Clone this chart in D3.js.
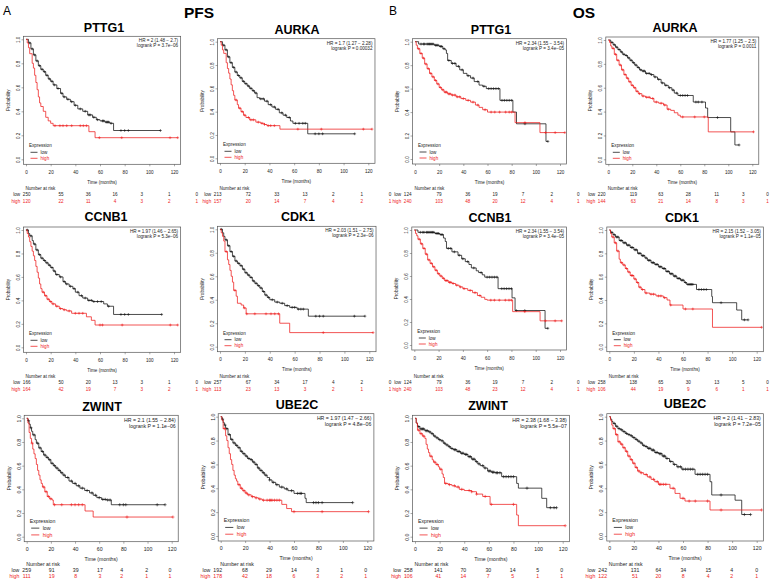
<!DOCTYPE html>
<html><head><meta charset="utf-8">
<script src="https://cdn.jsdelivr.net/npm/d3@7"></script>
<style>
body{margin:0;background:#fff}
svg{display:block}
text{font-family:"Liberation Sans",Arial,Helvetica,sans-serif}
</style>
</head><body>
<svg id="chart" width="770" height="582"></svg>
<script>
// ---------------- DATA ----------------
const timeTicks = [0, 20, 40, 60, 80, 100, 120];
const probTicks = [0, 0.2, 0.4, 0.6, 0.8, 1.0];
const groupLabels = ["low", "high"];

// PFS PTTG1
const pttg1PfsLow = [[2,0.97],[4,0.92],[6,0.87],[8,0.82],[10,0.78],[12,0.75],[14,0.73],[16,0.70],[18,0.67],[20,0.65],[22,0.62],[25,0.59],[28,0.55],[30,0.52],[33,0.50],[36,0.48],[39,0.45],[42,0.42],[46,0.40],[50,0.37],[54,0.35],[57,0.33],[60,0.32],[64,0.31],[68,0.30],[71,0.24],[109,0.24]];
const pttg1PfsLowCens = [3,5,7,9,11,13,15,17,19,21,23,26,29,31,34,37,40,44,48,51,52,55,58,62,63,65,66,67,69,77,80,83,109];
const pttg1PfsHigh = [[1,0.97],[2,0.93],[3,0.88],[5,0.80],[6,0.76],[7,0.70],[8,0.64],[9,0.58],[10,0.52],[11,0.47],[12,0.44],[14,0.40],[16,0.35],[18,0.32],[20,0.30],[22,0.28],[51,0.23],[56,0.18],[123,0.18]];
const pttg1PfsHighCens = [23.5,27.5,30,33,37,44,46.5,49,59.5,77.6,116.8,123];
const pttg1PfsRiskLow = [250,55,36,16,3,1,0];
const pttg1PfsRiskHigh = [120,22,11,4,3,2,1];

// PFS AURKA
const aurkaPfsLow = [[2,0.97],[4,0.93],[6,0.87],[8,0.82],[10,0.78],[12,0.74],[14,0.71],[16,0.69],[18,0.66],[20,0.64],[22,0.62],[24,0.60],[26,0.58],[28,0.56],[30,0.52],[32,0.51],[36,0.49],[39,0.46],[42,0.44],[45,0.42],[48,0.39],[51,0.37],[54,0.35],[57,0.32],[59,0.30],[71,0.21],[109,0.21]];
const aurkaPfsLowCens = [3,5,7,9,11,13,15,17,19,21,23,25,27,29,33,35,38,41,44,47,50,53,56,61,64,67,69,77,80,83,109];
const aurkaPfsHigh = [[1,0.97],[2,0.93],[3,0.90],[5,0.82],[6,0.77],[7,0.73],[8,0.68],[9,0.63],[10,0.58],[11,0.54],[12,0.50],[14,0.46],[15,0.43],[17,0.40],[19,0.37],[21,0.35],[24,0.33],[29,0.31],[33,0.30],[36,0.29],[38,0.28],[48.5,0.25],[123,0.25]];
const aurkaPfsHighCens = [13,16,18,20,23,25,27,31,34,36,39,41,44,63,82,116,123];
const aurkaPfsRiskLow = [213,72,33,13,2,1,0];
const aurkaPfsRiskHigh = [157,20,14,7,4,2,1];

// OS PTTG1
const pttg1OsLow = [[3,0.98],[16,0.97],[20,0.96],[23,0.94],[25,0.93],[26,0.90],[27,0.84],[30,0.815],[34,0.79],[37,0.76],[40,0.73],[43,0.71],[46,0.69],[49,0.66],[53,0.63],[56,0.62],[59,0.60],[70.3,0.50],[81,0.40],[84,0.30],[108.4,0.15],[110,0.15]];
const pttg1OsLowCens = [5,7,8,10,11,12,13,14,15,17,18,19,21,22,24,28,31,33,36,39,44,48,52,57,61,63,65,67,69,72,74,76,78,80,91,110];
const pttg1OsHigh = [[1,0.97],[2,0.94],[4,0.90],[6,0.86],[8,0.81],[10,0.77],[12,0.73],[14,0.70],[16,0.67],[18,0.64],[20,0.61],[22,0.59],[24,0.57],[27,0.555],[30,0.545],[34,0.53],[38,0.515],[42,0.50],[46,0.485],[50,0.46],[53,0.44],[56,0.42],[60,0.40],[82.8,0.31],[103.4,0.225],[124,0.225]];
const pttg1OsHighCens = [3,5,7,9,11,13,15,17,19,21,23,25,26,28,29,31,33,35,37,40,44,48,52,58,63,66,70,75,78,80,91,108,116,124];
const pttg1OsRiskLow = [124,79,36,19,7,2,0];
const pttg1OsRiskHigh = [240,103,48,20,12,4,1];

// OS AURKA
const aurkaOsLow = [[2,0.98],[4,0.96],[6,0.94],[8,0.92],[10,0.90],[12,0.88],[14,0.87],[16,0.85],[18,0.83],[20,0.81],[22,0.79],[24,0.77],[26,0.75],[28,0.74],[31,0.72],[35,0.71],[38,0.69],[41,0.67],[44,0.64],[47,0.62],[50,0.60],[53,0.58],[55,0.555],[58,0.535],[70.8,0.48],[81,0.43],[82.8,0.35],[102,0.23],[105.5,0.12],[109,0.12]];
const aurkaOsLowCens = [3,5,7,9,11,13,15,17,19,21,23,25,27,29,30,32,34,36,39,42,45,48,51,54,57,60,62,64,66,73,75,78,91,109];
const aurkaOsHigh = [[1,0.98],[2,0.95],[3,0.93],[5,0.88],[7,0.83],[9,0.79],[11,0.75],[13,0.71],[15,0.68],[17,0.65],[19,0.62],[21,0.60],[23,0.57],[25,0.55],[28,0.53],[31,0.52],[35,0.51],[38,0.48],[42,0.47],[46,0.455],[49,0.42],[52,0.41],[55,0.39],[58,0.37],[60,0.355],[83.3,0.23],[121,0.23]];
const aurkaOsHighCens = [4,6,8,10,12,14,16,18,20,22,24,26,29,32,34,37,40,44,47,50,62,72,80,121];
const aurkaOsRiskLow = [220,119,63,28,11,3,0];
const aurkaOsRiskHigh = [144,63,21,14,8,3,1];

// PFS CCNB1
const ccnb1PfsLow = [[2,0.97],[3,0.95],[5,0.91],[6,0.88],[8,0.83],[10,0.79],[12,0.76],[14,0.74],[16,0.72],[18,0.70],[20,0.68],[22,0.65],[24,0.62],[27,0.60],[30,0.56],[32,0.54],[35,0.52],[38,0.50],[40,0.47],[43,0.44],[46,0.42],[50,0.40],[54,0.39],[63,0.37],[66,0.35],[71,0.28],[110,0.28]];
const ccnb1PfsLowCens = [1,4,7,9,11,13,15,17,19,21,23,25,28,31,33,36,39,42,45,48,51,53,55,58,61,67,77,80,83,110];
const ccnb1PfsHigh = [[1,0.97],[2,0.94],[3,0.90],[4,0.86],[5,0.82],[6,0.78],[7,0.74],[8,0.69],[9,0.64],[10,0.59],[11,0.54],[12,0.50],[13,0.47],[15,0.44],[17,0.41],[19,0.39],[21,0.37],[24,0.35],[27,0.33],[30,0.32],[33,0.31],[37,0.29],[49,0.26],[53,0.23],[56,0.19],[123,0.19]];
const ccnb1PfsHighCens = [14,16,18,20,22,25,28,31,35,40,43,46,60,62,78,117,123];
const ccnb1PfsRiskLow = [166,50,20,13,3,1,0];
const ccnb1PfsRiskHigh = [164,42,19,7,3,2,1];

// PFS CDK1
const cdk1PfsLow = [[2,0.97],[3,0.94],[4,0.91],[6,0.86],[8,0.81],[10,0.77],[12,0.73],[14,0.71],[16,0.69],[18,0.66],[20,0.63],[22,0.61],[24,0.59],[26,0.56],[28,0.54],[30,0.52],[32,0.50],[34,0.47],[36,0.44],[38,0.42],[40,0.40],[44,0.38],[48,0.37],[52,0.35],[56,0.335],[62,0.32],[71,0.26],[116.5,0.26]];
const cdk1PfsLowCens = [1,5,7,9,11,13,15,17,19,21,23,25,27,29,31,33,35,37,39,42,46,50,54,58,60,63,65,67,77,80,83,108,116.5];
const cdk1PfsHigh = [[1,0.97],[2,0.94],[3,0.90],[4,0.81],[6,0.74],[7,0.70],[8,0.65],[9,0.60],[10,0.55],[11,0.48],[13,0.43],[14,0.37],[17,0.355],[19,0.33],[21,0.28],[48,0.20],[56,0.12],[123,0.12]];
const cdk1PfsHighCens = [5,12,19.5,21.5,28,37,41,44,47,83,123];
const cdk1PfsRiskLow = [257,67,34,17,4,2,0];
const cdk1PfsRiskHigh = [113,23,13,3,2,1,1];

// OS CCNB1
const ccnb1OsLow = [[3,0.98],[17,0.97],[21,0.96],[24,0.93],[25.5,0.90],[26.5,0.84],[31,0.81],[36,0.78],[39,0.75],[42,0.725],[45,0.70],[47,0.67],[51,0.645],[53,0.63],[56,0.61],[58,0.59],[69,0.49],[80.5,0.41],[83,0.30],[107.7,0.145],[110,0.145]];
const ccnb1OsLowCens = [5,7,8,10,11,12,13,14,15,16,18,19,20,22,23,28,30,33,37,40,44,49,55,60,62,64,66,68,72,74,76,78,80,84,91,110];
const ccnb1OsHigh = [[1,0.97],[2,0.95],[3,0.92],[5,0.88],[7,0.84],[9,0.79],[11,0.74],[13,0.71],[15,0.68],[17,0.65],[19,0.62],[21,0.60],[23,0.58],[25,0.56],[28,0.545],[31,0.535],[34,0.52],[37,0.505],[40,0.49],[44,0.475],[48,0.455],[52,0.43],[55,0.415],[58,0.397],[60,0.39],[81,0.29],[103.6,0.21],[121.4,0.21]];
const ccnb1OsHighCens = [4,6,8,10,12,14,16,18,20,22,24,26,27,29,30,32,35,38,41,46,50,54,63,66,70,75,78,80,91,108,116,121.4];
const ccnb1OsRiskLow = [124,79,36,19,7,2,0];
const ccnb1OsRiskHigh = [240,103,48,23,12,4,1];

// OS CDK1
const cdk1OsLow = [[1,0.98],[3,0.96],[5,0.94],[8,0.91],[11,0.89],[14,0.87],[17,0.85],[20,0.83],[23,0.80],[26,0.78],[29,0.76],[31,0.74],[34,0.72],[37,0.705],[40,0.685],[43,0.67],[46,0.645],[49,0.625],[52,0.605],[55,0.585],[58,0.57],[61,0.55],[63,0.534],[71,0.49],[83.4,0.43],[84,0.377],[103.7,0.314],[107.8,0.23],[113,0.23]];
const cdk1OsLowCens = [2,4,6,7,9,10,12,13,15,16,18,19,21,22,24,25,27,28,30,32,33,35,36,38,39,41,42,44,45,47,48,50,51,53,54,56,57,59,60,62,64,65,66,67,68,73,75,77,79,91,110,113];
const cdk1OsHigh = [[1,0.97],[2,0.94],[4,0.89],[6,0.82],[8,0.75],[9,0.72],[11,0.70],[13,0.67],[15,0.64],[17,0.61],[20,0.58],[22,0.55],[24,0.51],[26,0.49],[29,0.46],[33,0.45],[38,0.435],[44,0.42],[47,0.40],[49.4,0.357],[60,0.323],[84,0.166],[124,0.166]];
const cdk1OsHighCens = [3,5,7,10,12,14,16,18,19,21,23,25,27,30,34,36,40,42,45,50,62,68,124];
const cdk1OsRiskLow = [258,138,65,30,13,5,0];
const cdk1OsRiskHigh = [106,44,19,9,6,1,1];

// PFS ZWINT
const zwintPfsLow = [[1,0.98],[2,0.95],[3,0.92],[4,0.89],[5,0.86],[7,0.82],[8,0.79],[10,0.75],[12,0.72],[14,0.69],[16,0.67],[18,0.65],[20,0.62],[22,0.60],[24,0.58],[26,0.56],[28,0.54],[30,0.52],[32,0.50],[35,0.47],[38,0.45],[41,0.43],[44,0.41],[48,0.39],[52,0.37],[55,0.35],[58,0.33],[62,0.315],[66,0.31],[70,0.27],[114.5,0.27]];
const zwintPfsLowCens = [1.5,3.5,6,9,11,13,15,17,19,21,23,25,27,29,31,34,37,40,43,46,50,54,57,60,63,65,67,69,77,80,82,108,114.5];
const zwintPfsHigh = [[1,0.96],[2,0.88],[3,0.83],[4,0.79],[5,0.74],[6,0.70],[7,0.66],[8,0.61],[9,0.56],[10,0.52],[11,0.48],[12,0.45],[13,0.42],[15,0.38],[17,0.34],[19,0.32],[21,0.31],[22,0.27],[48.3,0.217],[55,0.166],[121,0.166]];
const zwintPfsHighCens = [4.5,14,16,18,20,23,29,37,40,43,46,83,121];
const zwintPfsRiskLow = [259,91,39,17,4,2,0];
const zwintPfsRiskHigh = [111,19,8,3,2,1,1];

// PFS UBE2C
const ube2cPfsLow = [[1,0.98],[2,0.95],[3,0.93],[4,0.90],[6,0.85],[8,0.81],[10,0.78],[12,0.76],[14,0.74],[16,0.71],[18,0.69],[20,0.67],[22,0.65],[24,0.64],[26,0.62],[28,0.60],[30,0.57],[32,0.55],[34,0.53],[36,0.51],[38,0.49],[40,0.47],[42,0.45],[45,0.43],[48,0.41],[52,0.395],[55,0.38],[60,0.357],[69,0.316],[70,0.28],[108,0.28]];
const ube2cPfsLowCens = [1.5,3.5,5,7,9,11,13,15,17,19,21,23,25,27,29,31,33,35,37,40,43,46,50,54,58,63,65,66,76,78,80,83,108];
const ube2cPfsHigh = [[1,0.97],[2,0.90],[4,0.84],[5,0.80],[6,0.74],[7,0.69],[8,0.64],[9,0.60],[10,0.55],[11,0.51],[12,0.48],[13,0.46],[14,0.43],[16,0.40],[18,0.38],[20,0.36],[22,0.345],[25,0.33],[28,0.32],[31,0.31],[34,0.30],[50,0.265],[54,0.23],[58,0.204],[121,0.204]];
const ube2cPfsHighCens = [3,15,17,19,21,23,26,29,32,35,38,40,41,42,44,46,48,60,83,121];
const ube2cPfsRiskLow = [192,68,29,14,3,1,0];
const ube2cPfsRiskHigh = [178,42,18,6,3,2,1];

// OS ZWINT
const zwintOsLow = [[1,0.96],[2,0.93],[4,0.91],[8,0.895],[11,0.885],[13,0.87],[15,0.85],[17,0.835],[19,0.82],[21,0.81],[23,0.79],[25,0.775],[27,0.76],[29,0.745],[31,0.735],[34,0.72],[37,0.705],[40,0.695],[43,0.676],[46,0.655],[49,0.634],[51,0.615],[53,0.60],[56,0.58],[59,0.555],[62,0.545],[65,0.54],[70.4,0.507],[82.6,0.45],[84,0.41],[103,0.324],[107,0.245],[115,0.245]];
const zwintOsLowCens = [3,5,6,7,9,10,12,14,16,18,20,22,24,26,28,30,32,33,35,36,38,39,41,42,44,45,47,48,50,52,55,57,60,61,63,64,66,67,69,72,74,76,78,80,91,110,113,115];
const zwintOsHigh = [[1,0.96],[2,0.90],[4,0.87],[6,0.85],[8,0.83],[9,0.78],[10,0.74],[11,0.71],[12,0.68],[14,0.65],[15,0.63],[17,0.61],[19,0.59],[20,0.57],[22,0.53],[23,0.50],[24,0.45],[27,0.44],[30,0.43],[33,0.42],[36,0.40],[40,0.39],[46,0.38],[50,0.36],[55,0.34],[61,0.273],[82.6,0.183],[84,0.093],[122,0.093]];
const zwintOsHighCens = [3,5,7,13,16,18,21,25,28,32,35,38,44,46,50,57,62,80,122];
const zwintOsRiskLow = [258,141,70,30,14,5,0];
const zwintOsRiskHigh = [106,41,14,7,5,1,1];

// OS UBE2C
const ube2cOsLow = [[1,0.98],[2,0.96],[3,0.944],[5,0.92],[7,0.90],[9,0.89],[11,0.875],[13,0.86],[15,0.85],[17,0.84],[19,0.825],[21,0.81],[23,0.795],[25,0.78],[27,0.76],[29,0.75],[31,0.735],[34,0.72],[37,0.70],[40,0.69],[43,0.67],[46,0.65],[49,0.625],[52,0.60],[55,0.58],[59,0.56],[69.8,0.517],[82,0.455],[83.4,0.344],[102.4,0.30],[107.8,0.18],[115,0.18]];
const ube2cOsLowCens = [4,6,8,10,12,14,16,18,20,22,24,26,28,30,32,33,35,36,38,39,41,42,44,45,47,50,53,56,58,60,62,64,66,68,72,74,76,78,80,91,110,115];
const ube2cOsHigh = [[1,0.97],[2,0.93],[3,0.90],[5,0.85],[7,0.79],[9,0.77],[11,0.74],[13,0.71],[15,0.67],[17,0.64],[19,0.61],[21,0.575],[23,0.545],[25,0.53],[28,0.515],[31,0.495],[34,0.475],[37,0.455],[40,0.433],[49.4,0.40],[53.5,0.357],[57.6,0.316],[61.6,0.293],[82,0.218],[124,0.218]];
const ube2cOsHighCens = [4,6,8,10,12,14,16,18,20,22,24,26,30,33,36,39,41,42,44,46,52,60,65,70,80,91,124];
const ube2cOsRiskLow = [242,131,64,34,15,4,0];
const ube2cOsRiskHigh = [122,51,20,8,4,2,1];

const panelTitles = ["PTTG1","AURKA","PTTG1","AURKA","CCNB1","CDK1","CCNB1","CDK1","ZWINT","UBE2C","ZWINT","UBE2C"];
const hrTexts = ["HR = 2 (1.48 \u2212 2.7)","HR = 1.7 (1.27 \u2212 2.28)","HR = 2.34 (1.55 \u2212 3.54)","HR = 1.77 (1.25 \u2212 2.5)",
  "HR = 1.97 (1.46 \u2212 2.65)","HR = 2.03 (1.51 \u2212 2.75)","HR = 2.34 (1.55 \u2212 3.54)","HR = 2.15 (1.52 \u2212 3.05)",
  "HR = 2.1 (1.55 \u2212 2.84)","HR = 1.97 (1.47 \u2212 2.66)","HR = 2.38 (1.68 \u2212 3.38)","HR = 2 (1.41 \u2212 2.83)"];
const pTexts = ["logrank P = 3.7e\u221206","logrank P = 0.00032","logrank P = 3.4e\u221205","logrank P = 0.0011",
  "logrank P = 5.3e\u221206","logrank P = 2.3e\u221206","logrank P = 3.4e\u221205","logrank P = 1.1e\u221205",
  "logrank P = 1.1e\u221206","logrank P = 4.8e\u221206","logrank P = 5.5e\u221207","logrank P = 7.2e\u221205"];

const curvesLow = [pttg1PfsLow,aurkaPfsLow,pttg1OsLow,aurkaOsLow,ccnb1PfsLow,cdk1PfsLow,ccnb1OsLow,cdk1OsLow,zwintPfsLow,ube2cPfsLow,zwintOsLow,ube2cOsLow];
const censLow = [pttg1PfsLowCens,aurkaPfsLowCens,pttg1OsLowCens,aurkaOsLowCens,ccnb1PfsLowCens,cdk1PfsLowCens,ccnb1OsLowCens,cdk1OsLowCens,zwintPfsLowCens,ube2cPfsLowCens,zwintOsLowCens,ube2cOsLowCens];
const curvesHigh = [pttg1PfsHigh,aurkaPfsHigh,pttg1OsHigh,aurkaOsHigh,ccnb1PfsHigh,cdk1PfsHigh,ccnb1OsHigh,cdk1OsHigh,zwintPfsHigh,ube2cPfsHigh,zwintOsHigh,ube2cOsHigh];
const censHigh = [pttg1PfsHighCens,aurkaPfsHighCens,pttg1OsHighCens,aurkaOsHighCens,ccnb1PfsHighCens,cdk1PfsHighCens,ccnb1OsHighCens,cdk1OsHighCens,zwintPfsHighCens,ube2cPfsHighCens,zwintOsHighCens,ube2cOsHighCens];
const riskLow = [pttg1PfsRiskLow,aurkaPfsRiskLow,pttg1OsRiskLow,aurkaOsRiskLow,ccnb1PfsRiskLow,cdk1PfsRiskLow,ccnb1OsRiskLow,cdk1OsRiskLow,zwintPfsRiskLow,ube2cPfsRiskLow,zwintOsRiskLow,ube2cOsRiskLow];
const riskHigh = [pttg1PfsRiskHigh,aurkaPfsRiskHigh,pttg1OsRiskHigh,aurkaOsRiskHigh,ccnb1PfsRiskHigh,cdk1PfsRiskHigh,ccnb1OsRiskHigh,cdk1OsRiskHigh,zwintPfsRiskHigh,ube2cPfsRiskHigh,zwintOsRiskHigh,ube2cOsRiskHigh];

// ---------------- LAYOUT (pixels) ----------------
const layout = [
 {tx0:26,   tx120:174,   py1:39.3,  py0:159.3, titleX:104, titleY:27,  fs:4.6, cols:[26.7,61,88.3,115,141.7,169.3,196.7], nY:188,   lowY:194.5, highY:201},
 {tx0:220,  tx120:368.3, py1:41.7,  py0:158.3, titleX:297, titleY:29,  fs:4.6, cols:[217.7,248.3,276.7,305,333.3,361.7,390], nY:188, lowY:194.5, highY:201},
 {tx0:415,  tx120:560,   py1:41.7,  py0:159,   titleX:491, titleY:29,  fs:4.6, cols:[407.7,439,467.7,495,523,551.7,578.3], nY:188, lowY:194.5, highY:201},
 {tx0:608.3,tx120:752.3, py1:40,    py0:159.3, titleX:675, titleY:27,  fs:4.6, cols:[601.7,633.3,660.7,688.3,716.7,743.3,767.5], nY:188, lowY:194.5, highY:201},
 {tx0:26,   tx120:174,   py1:230,   py0:347.3, titleX:106, titleY:216, fs:4.6, cols:[26.7,61,88.3,115,141.7,169.3,196.7], nY:376.5, lowY:382.5, highY:389},
 {tx0:220,  tx120:369.3, py1:229.3, py0:346.7, titleX:298, titleY:216, fs:4.6, cols:[217.7,248.3,276.7,305,333.3,361.7,390], nY:376.5, lowY:382.5, highY:389},
 {tx0:414.3,tx120:560,   py1:230,   py0:345,   titleX:490, titleY:217, fs:4.6, cols:[407.7,439,467.7,495,523,551.7,578.3], nY:376.5, lowY:382.5, highY:389},
 {tx0:609.3,tx120:756.7, py1:230,   py0:346.7, titleX:682, titleY:217, fs:4.6, cols:[601.7,633.3,660.7,688.3,716.7,743.3,767.5], nY:376.5, lowY:382.5, highY:389},
 {tx0:26.7, tx120:171.7, py1:418.3, py0:536.7, titleX:102, titleY:406, fs:5.2, cols:[26.7,51.7,75.7,100,121.7,146.7,170], nY:564.5, lowY:570, highY:576.5},
 {tx0:220.7,tx120:367.3, py1:416.7, py0:536,   titleX:297, titleY:404, fs:5.2, cols:[217.7,245,269,294,317.7,341.7,365.7], nY:564.5, lowY:570, highY:576.5},
 {tx0:415,  tx120:562.7, py1:418.3, py0:536.7, titleX:488, titleY:405, fs:5.2, cols:[408.3,438.3,463.3,488.3,512.7,537.7,561.7], nY:564.5, lowY:570, highY:576.5},
 {tx0:609.3,tx120:756.7, py1:416.7, py0:536,   titleX:685, titleY:403, fs:5.2, cols:[602.7,635,658.3,683.3,708.3,731.7,756.7], nY:564.5, lowY:570, highY:576.5}
];

const BLACK = "#111", RED = "#ee1c1c", BOX = "#555";
const svg = d3.select("#chart");

// figure labels
svg.append("text").attr("x",3).attr("y",15).attr("font-size",12).text("A");
svg.append("text").attr("x",389).attr("y",15).attr("font-size",12).text("B");
svg.append("text").attr("x",199).attr("y",18).attr("font-size",15.5).attr("font-weight","bold").attr("text-anchor","middle").text("PFS");
svg.append("text").attr("x",584).attr("y",18).attr("font-size",15.5).attr("font-weight","bold").attr("text-anchor","middle").text("OS");

function stepValue(curve, t){
  let v = 1;
  for (const k of curve){ if (k[0] <= t) v = k[1]; else break; }
  return v;
}

layout.forEach((L, i) => {
  const g = svg.append("g");
  const fs = L.fs, k = fs/4.6;
  const x = d3.scaleLinear().domain([0,120]).range([L.tx0, L.tx120]);
  const y = d3.scaleLinear().domain([0,1]).range([L.py0, L.py1]);
  const bx0 = L.tx0 - 2.5, bx1 = L.tx0 + 1.045*(L.tx120 - L.tx0);
  const by0 = L.py1 - 3, by1 = L.py0 + 5;

  // title
  g.append("text").attr("x",L.titleX).attr("y",L.titleY).attr("dy","0.36em")
    .attr("text-anchor","middle").attr("font-size",12.5).attr("font-weight","bold").text(panelTitles[i]);

  // box
  g.append("rect").attr("x",bx0).attr("y",by0).attr("width",bx1-bx0).attr("height",by1-by0)
    .attr("fill","none").attr("stroke",BOX).attr("stroke-width",0.7);

  // x axis
  const xg = g.append("g").attr("transform",`translate(0,${by1})`)
    .call(d3.axisBottom(x).tickValues(timeTicks).tickSize(2).tickSizeOuter(0));
  xg.select(".domain").remove();
  xg.selectAll("line").attr("stroke",BOX).attr("stroke-width",0.5);
  xg.selectAll("text").attr("y", i>=8 ? 7 : 8).attr("dy","0.35em").attr("font-size",fs)
    .attr("font-family","Liberation Sans, Arial, sans-serif").attr("fill","#222");

  // y axis
  const yg = g.append("g").attr("transform",`translate(${bx0},0)`)
    .call(d3.axisLeft(y).tickValues(probTicks).tickFormat(d3.format(".1f")).tickSize(2).tickSizeOuter(0));
  yg.select(".domain").remove();
  yg.selectAll("line").attr("stroke",BOX).attr("stroke-width",0.5);
  yg.selectAll("text").attr("x",null).attr("y",0).attr("dy","0.35em").attr("text-anchor","middle")
    .attr("transform","translate(-5.5,0) rotate(-90)").attr("font-size",fs)
    .attr("font-family","Liberation Sans, Arial, sans-serif").attr("fill","#222");

  // axis titles
  g.append("text").attr("transform",`translate(${bx0-15.5},${(by0+by1)/2}) rotate(-90)`)
    .attr("text-anchor","middle").attr("dy","0.35em").attr("font-size",fs).attr("fill","#222").text("Probability");
  g.append("text").attr("x",(bx0+bx1)/2).attr("y",by1 + (i>=8?17:18)).attr("dy","0.35em")
    .attr("text-anchor","middle").attr("font-size",fs).attr("fill","#222").text("Time (months)");

  // curves
  const line = d3.line().x(d=>x(d[0])).y(d=>y(d[1])).curve(d3.curveStepAfter);
  const groups = [
    {curve:curvesLow[i], cens:censLow[i], color:BLACK},
    {curve:curvesHigh[i], cens:censHigh[i], color:RED}
  ];
  groups.forEach(G => {
    g.append("path").datum([[0,1]].concat(G.curve)).attr("d",line)
      .attr("fill","none").attr("stroke",G.color).attr("stroke-width",0.75);
    const h = 1.4*k;
    g.append("g").selectAll("path").data(G.cens).join("path")
      .attr("d", t => { const cx = x(t), cy = y(stepValue(G.curve,t));
        return `M${cx-h},${cy}h${2*h}M${cx},${cy-h}v${2*h}`; })
      .attr("stroke",G.color).attr("stroke-width",0.55).attr("fill","none");
  });

  // HR text
  g.append("text").attr("x",bx1-2.5).attr("y",by0+0.95*fs).attr("dy","0.35em").attr("text-anchor","end")
    .attr("font-size",fs).attr("fill","#222").text(hrTexts[i]);
  g.append("text").attr("x",bx1-2.5).attr("y",by0+2.05*fs).attr("dy","0.35em").attr("text-anchor","end")
    .attr("font-size",fs).attr("fill","#222").text(pTexts[i]);

  // legend
  const lx = bx0 + 5.5;
  const ly = [by1-18.5*k, by1-12*k, by1-6*k];
  g.append("text").attr("x",lx).attr("y",ly[0]).attr("dy","0.35em").attr("font-size",fs).attr("fill","#222").text("Expression");
  [BLACK, RED].forEach((c, j) => {
    g.append("line").attr("x1",lx+1.5).attr("x2",lx+8.5*k).attr("y1",ly[j+1]).attr("y2",ly[j+1])
      .attr("stroke",c).attr("stroke-width",0.75);
    g.append("text").attr("x",lx+11.5*k).attr("y",ly[j+1]).attr("dy","0.35em").attr("font-size",fs)
      .attr("fill", j===0 ? "#222" : RED).text(groupLabels[j]);
  });

  // number at risk
  g.append("text").attr("x",L.tx0-0.5).attr("y",L.nY).attr("dy","0.35em").attr("font-size",fs).attr("fill","#222").text("Number at risk");
  [[riskLow[i],"#222",L.lowY],[riskHigh[i],RED,L.highY]].forEach(([arr,c,yy], j) => {
    g.append("text").attr("x",L.cols[0]-6.5*k).attr("y",yy).attr("dy","0.35em").attr("text-anchor","end")
      .attr("font-size",fs).attr("fill",c).text(groupLabels[j]);
    g.append("g").selectAll("text").data(arr).join("text")
      .attr("x",(d,m)=>L.cols[m]).attr("y",yy).attr("dy","0.35em").attr("text-anchor","middle")
      .attr("font-size",fs).attr("fill",c).text(d=>d);
  });
});
</script>
</body></html>
